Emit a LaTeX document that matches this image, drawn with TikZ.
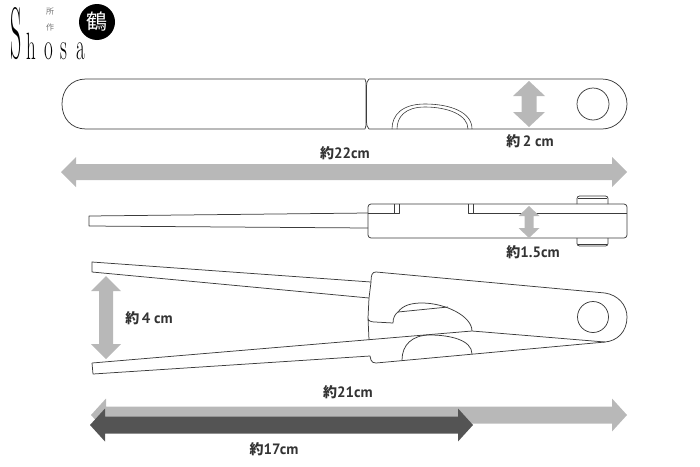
\documentclass[tikz,border=0pt]{standalone}
\usepackage{fontspec}
\setmainfont{Liberation Serif}
\newfontfamily\labelfont{PT Sans}
\newfontfamily\cjkfont{Noto Sans CJK JP}
\newfontfamily\logofont{Latin Modern Roman}
\definecolor{arrowgrey}{RGB}{184,184,184}
\definecolor{arrowdark}{RGB}{84,84,84}
\definecolor{linegrey}{RGB}{60,60,60}
\newcommand{\hdbl}[7]{% y, x1, x2, shaft half, head half, head length, color
  \fill[#7] (#2,#1) -- (#2+#6,#1-#5) -- (#2+#6,#1-#4) -- (#3-#6,#1-#4) -- (#3-#6,#1-#5)
    -- (#3,#1) -- (#3-#6,#1+#5) -- (#3-#6,#1+#4) -- (#2+#6,#1+#4) -- (#2+#6,#1+#5) -- cycle;}
\newcommand{\vdbl}[7]{% x, y1, y2, shaft half, head half, head length, color
  \fill[#7] (#1,#2) -- (#1-#5,#2+#6) -- (#1-#4,#2+#6) -- (#1-#4,#3-#6) -- (#1-#5,#3-#6)
    -- (#1,#3) -- (#1+#5,#3-#6) -- (#1+#4,#3-#6) -- (#1+#4,#2+#6) -- (#1+#5,#2+#6) -- cycle;}
\tikzset{
  outline/.style={draw=linegrey,line width=0.75pt,line join=round},
  sizelabel/.style={font=\labelfont\bfseries\fontsize{15}{15}\selectfont,inner sep=0pt,text=black!80},
  logoletter/.style={font=\logofont\fontsize{38}{38}\selectfont,inner sep=0pt,anchor=base,text=black,xscale=0.5},
  logosmall/.style={font=\cjkfont\fontsize{8}{8}\selectfont,inner sep=0pt,text=black!55},
}
\newcommand{\yaku}{{\cjkfont\bfseries\fontsize{14}{14}\selectfont 約}}
\begin{document}
\begin{tikzpicture}[x=1pt,y=-1pt]
\useasboundingbox (0,0) rectangle (700,466);
% logo
\fill[black] (97,22) circle (18);
\node[text=white,font=\cjkfont\fontsize{21}{21}\selectfont,inner sep=0pt] (crane) at (97,22) {鶴};
\node[font=\logofont\fontsize{73}{73}\selectfont,inner sep=0pt,anchor=base,xscale=0.3,text=black] (logoS) at (16,58) {S};
\node[logoletter] (logoh) at (31,59) {h};
\node[logoletter] (logoo) at (49,59) {o};
\node[logoletter] (logos) at (64,59) {s};
\node[logoletter] (logoa) at (81,59) {a};
\node[logosmall] (sho) at (50,12) {所};
\node[logosmall] (sa) at (50,27) {作};
% top view
\draw[outline] (365,79) -- (86,79) .. controls (71,79) and (62,90) .. (62,104) .. controls (62,118) and (71,129) .. (86,129) -- (365,129) .. controls (366,127) and (366,125) .. (366,122) -- (366,86) .. controls (366,83) and (366,81) .. (365,79);
\draw[outline] (369,79) -- (602,79) arc[start angle=-90,end angle=90,radius=25] -- (369,129) .. controls (367,127) and (366.5,125) .. (366.5,122) -- (366.5,86) .. controls (366.5,83) and (367,81) .. (369,79);
\draw[outline] (593,104) circle (16);
\draw[draw=linegrey,line width=0.6pt] (392,129) .. controls (392,115) and (402,104) .. (425,104) .. controls (450,104) and (472,112) .. (472,129);
\draw[draw=linegrey,line width=0.6pt] (397,129) .. controls (397,117) and (405,107) .. (425,107) .. controls (448,107) and (468,115) .. (468,129);
\vdbl{529}{81}{127}{7.5}{16}{15}{arrowgrey}
\node[sizelabel] (w2) at (530,141) {\yaku\,2 cm};
\hdbl{172}{61}{627}{8}{15}{15}{arrowgrey}
\node[sizelabel] (w22) at (345,153) {\yaku 22cm};
% side view
\draw[outline] (368,213) -- (89,216) -- (89,226) -- (368,228);
\draw[outline,rounded corners=3pt] (368,204) rectangle (627,238);
\draw[outline] (368,213) -- (399,213) -- (399,204) (394,204) -- (394,213);
\draw[outline] (627,213) -- (468,213) -- (468,204) (473,204) -- (473,213);
\draw[outline,rounded corners=2.5pt] (577,204) -- (577,196) -- (608,196) -- (608,204);
\draw[draw=linegrey,line width=0.5pt] (578,198) -- (607,198);
\draw[outline,rounded corners=2.5pt] (577,238) -- (577,246) -- (608,246) -- (608,238);
\draw[draw=linegrey,line width=0.5pt] (578,244) -- (607,244);
\vdbl{529}{206}{238}{4.5}{10.5}{10}{arrowgrey}
\node[sizelabel] (h15) at (533,252) {\yaku 1.5cm};
% open view
\draw[outline] (371,282) -- (92,262) -- (92,272) -- (369,298);
\draw[outline] (369,340) -- (368,318) .. controls (368,321) and (371,322) .. (375,322) -- (393,323) .. controls (393,318) and (395,314) .. (398,312) .. controls (403,305) and (412,303) .. (422,303) .. controls (445,303) and (472,316) .. (472,331);
\draw[outline] (371,282) -- (369,298) -- (368,318);
\draw[outline] (371,282) .. controls (371,275) and (372,272) .. (376,272) -- (605,293) .. controls (618,295) and (627,305) .. (627,317) .. controls (627,332) and (617,341) .. (605,342);
\draw[outline] (398,312) -- (448,307);
\draw[outline] (593,317) circle (15.5);
\draw[outline] (92,363) -- (472,331) -- (605,342);
\draw[outline] (92,363) -- (93,374) -- (370,356) -- (371,360) .. controls (372,362) and (373,363) .. (376,363) -- (605,342);
\draw[outline] (402,360) .. controls (402,345) and (412,335) .. (430,335) .. controls (450,335) and (472,340) .. (472,354);
\vdbl{106}{276}{359}{7}{15}{15}{arrowgrey}
\node[sizelabel] (h4) at (149,318) {\yaku\,4 cm};
% length arrows
\hdbl{415}{91}{627}{8.5}{16.5}{15}{arrowgrey}
\hdbl{425}{90}{473}{8.5}{16.5}{15}{arrowdark}
\node[sizelabel] (l21) at (348,392) {\yaku 21cm};
\node[sizelabel] (l17) at (274,449) {\yaku 17cm};
\end{tikzpicture}
\end{document}
